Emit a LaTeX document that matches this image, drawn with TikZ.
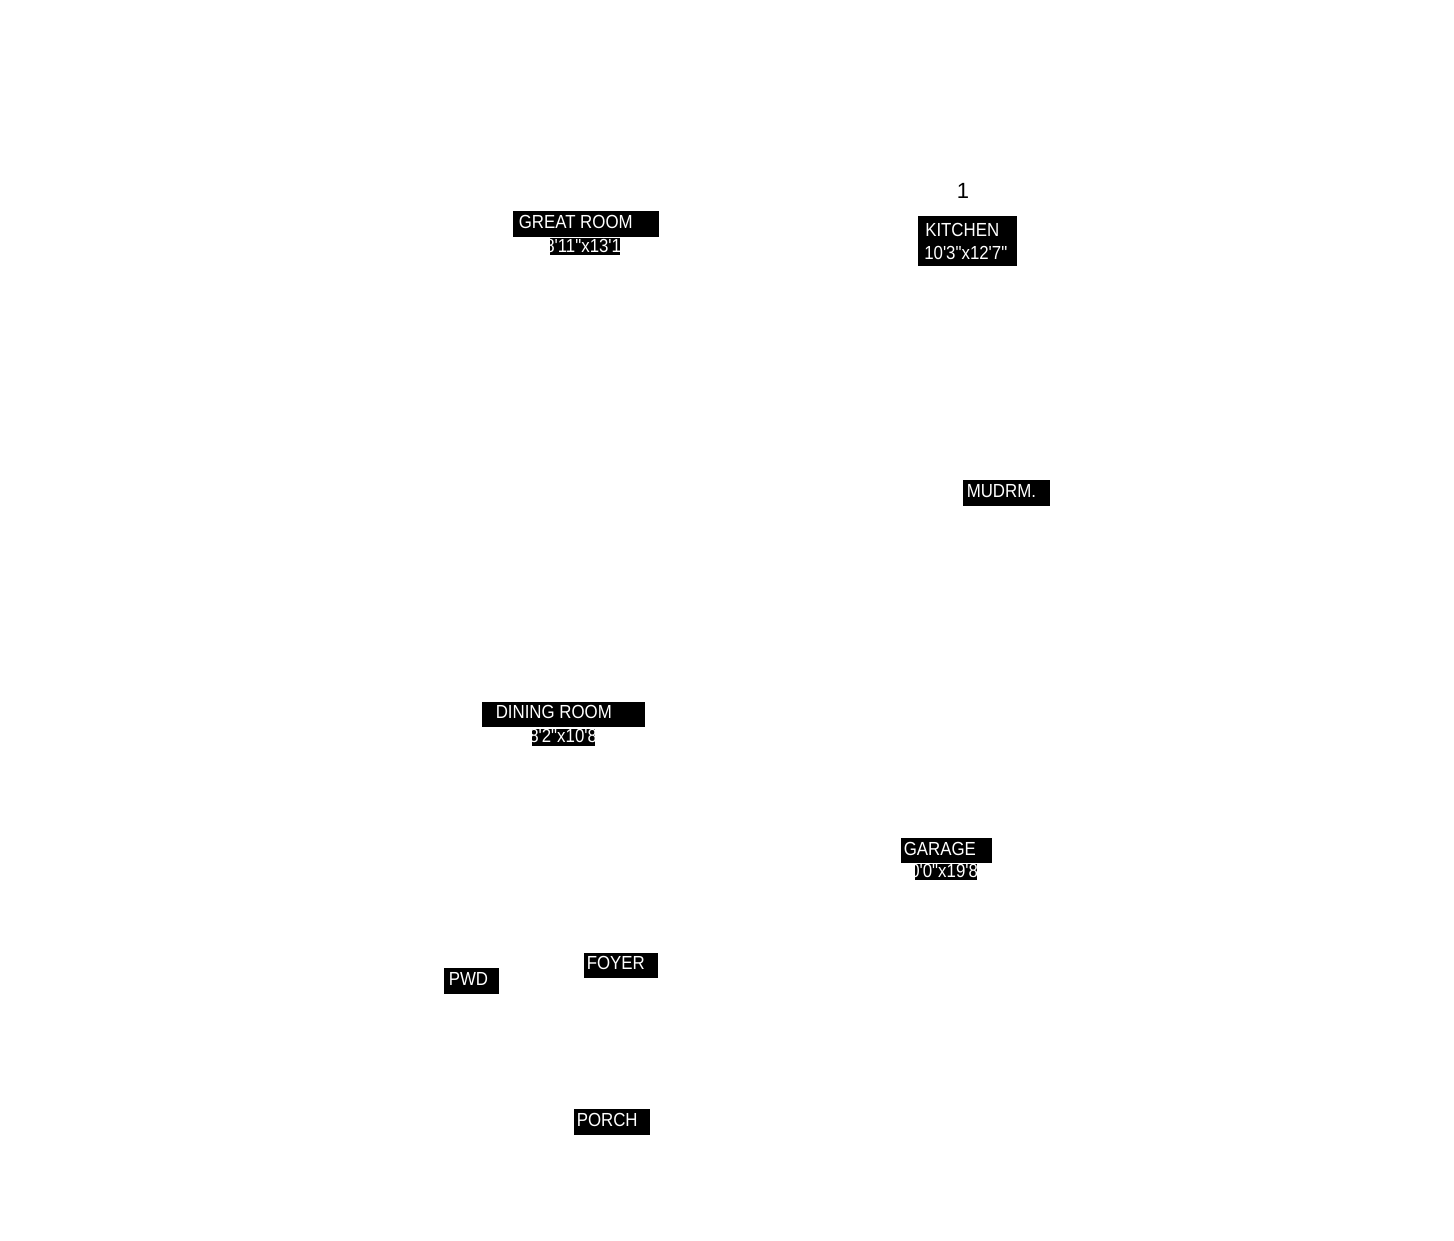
\documentclass[tikz,border=0pt]{standalone}
\usepackage{fontspec}
\newfontfamily\labfont[FakeStretch=0.89,Ligatures=TeXOff]{Liberation Sans}
\newfontfamily\numfont[Ligatures=TeXOff]{Liberation Sans}
\tikzset{
  labbox/.style={fill=black,draw=none},
  labtext/.style={text=white,inner sep=0pt,anchor=base west,font=\labfont\fontsize{14.2pt}{16pt}\selectfont},
}
% \roomlabel{name}{x1}{y1}{x2}{y2}{textx}{baseline}{text}
\newcommand\roomlabel[8]{%
  \fill[labbox] (#2,#3) rectangle (#4,#5);
  \begin{scope}
    \clip (#2,#3) rectangle (#4,#5);
    \node[labtext] (#1) at (#6,#7) {#8};
  \end{scope}
}
\begin{document}
\begin{tikzpicture}[x=0.75pt,y=-0.75pt]
\useasboundingbox (0,0) rectangle (1454,1240);
% level number
\node[inner sep=0pt,anchor=base,font=\numfont\fontsize{16.5pt}{18pt}\selectfont] (levelno) at (963,198) {1};
% labels
\roomlabel{great}{513}{211}{659}{237}{518.5}{228}{GREAT ROOM}
\roomlabel{greatdim}{550}{238}{620}{255}{545}{252}{8'11"x13'1}
\roomlabel{kitchen}{918}{216}{1017}{241}{925}{236.5}{KITCHEN}
\roomlabel{kitchendim}{918}{241}{1017}{266}{924}{259}{10'3"x12'7"}
\roomlabel{mudrm}{963}{480}{1050}{506}{966.5}{497}{MUDRM.}
\roomlabel{dining}{482}{702}{645}{727}{495.5}{718}{DINING ROOM}
\roomlabel{diningdim}{532}{729}{595}{746}{529}{742.5}{8'2"x10'8}
\roomlabel{garage}{901}{838}{992}{863}{903.5}{855.5}{GARAGE}
\roomlabel{garagedim}{915}{864}{977}{880}{910}{877.5}{0'0"x19'8}
\roomlabel{foyer}{584}{953}{658}{978}{586.5}{969}{FOYER}
\roomlabel{pwd}{444}{968}{499}{994}{448.5}{985.5}{PWD}
\roomlabel{porch}{574}{1109}{650}{1135}{576.5}{1126}{PORCH}
\end{tikzpicture}
\end{document}
